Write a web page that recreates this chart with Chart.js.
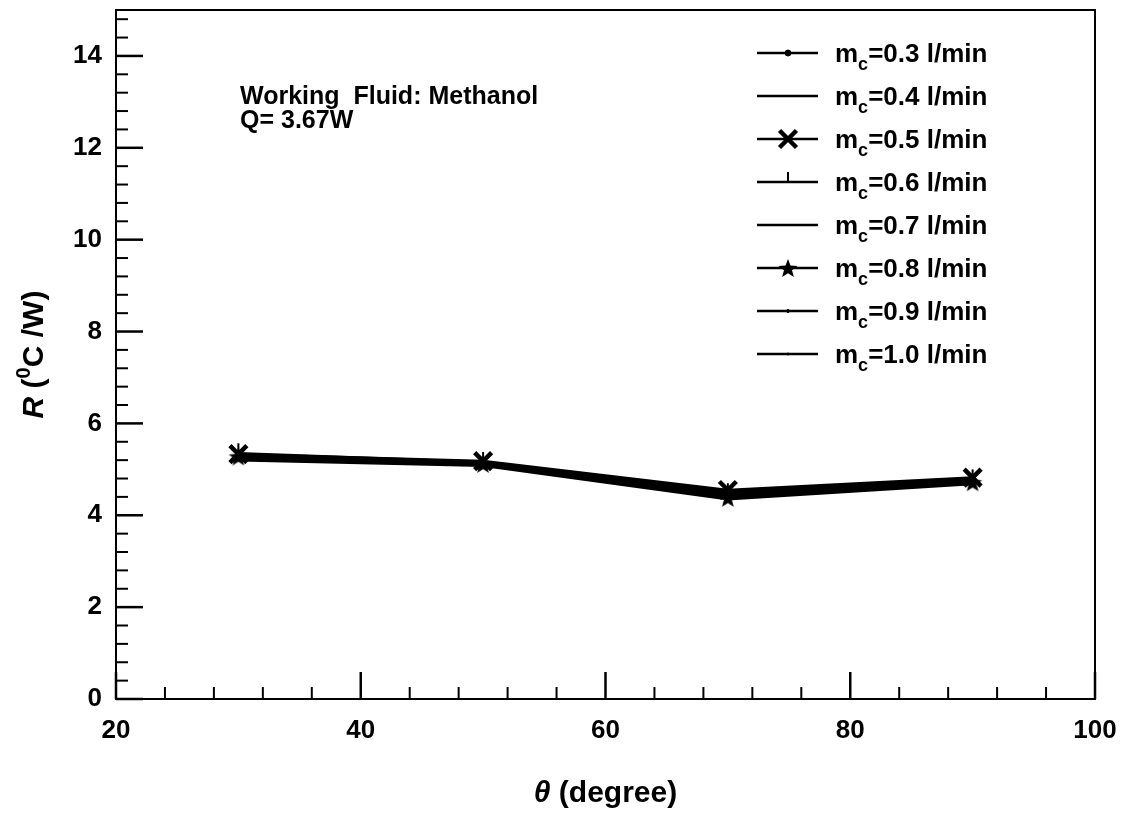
<!DOCTYPE html>
<html>
<head>
<meta charset="utf-8">
<script src="https://cdn.jsdelivr.net/npm/chart.js@4.4.0/dist/chart.umd.min.js"></script>
<style>
    html, body { margin: 0; padding: 0; background: #fff; }
    #wrap { width: 1123px; height: 814px; position: relative; }
</style>
</head>
<body>
<div id="wrap"><canvas id="chart" width="1123" height="814"></canvas></div>
<script>
'use strict';

// Data
const angles = [30, 50, 70, 90];
const flowLabels = ['0.3', '0.4', '0.5', '0.6', '0.7', '0.8', '0.9', '1.0'];
const r03 = [5.30, 5.15, 4.52, 4.80];
const r04 = [5.22, 5.10, 4.40, 4.70];
const r05 = [5.33, 5.18, 4.55, 4.82];
const r06 = [5.35, 5.16, 4.48, 4.78];
const r07 = [5.20, 5.08, 4.35, 4.68];
const r08 = [5.28, 5.12, 4.38, 4.72];
const r09 = [5.25, 5.13, 4.45, 4.74];
const r10 = [5.24, 5.11, 4.42, 4.73];
const xTicks = [20, 40, 60, 80, 100];
const yTicks = [0, 2, 4, 6, 8, 10, 12, 14];

const FONT = 'Liberation Sans, Arial, Helvetica, sans-serif';

// filled five point star used as a point style
const makeStar = function (size) {
    const c = document.createElement('canvas');
    c.width = size;
    c.height = size;
    const g = c.getContext('2d');
    const cx = size / 2, cy = size / 2 + 1, ro = size / 2, ri = ro * 0.42;
    g.beginPath();
    for (let i = 0; i < 10; i++) {
        const r = i % 2 === 0 ? ro : ri;
        const a = -Math.PI / 2 + i * Math.PI / 5;
        g.lineTo(cx + r * Math.cos(a), cy + r * Math.sin(a));
    }
    g.closePath();
    g.fillStyle = '#000';
    g.fill();
    return c;
};
const star = makeStar(20);

const markers = [
    { pointStyle: 'circle', radius: 3, borderWidth: 1, rotation: 0 },
    { pointStyle: false, radius: 0, borderWidth: 0, rotation: 0 },
    { pointStyle: 'crossRot', radius: 12, borderWidth: 4.5, rotation: 0 },
    { pointStyle: 'dash', radius: 10, borderWidth: 2, rotation: -90 },
    { pointStyle: false, radius: 0, borderWidth: 0, rotation: 0 },
    { pointStyle: star, radius: 10, borderWidth: 0, rotation: 0 },
    { pointStyle: 'circle', radius: 1.5, borderWidth: 1, rotation: 0 },
    { pointStyle: 'circle', radius: 1, borderWidth: 1, rotation: 0 },
];
const seriesData = [r03, r04, r05, r06, r07, r08, r09, r10];

const datasets = seriesData.map((vals, i) => ({
    label: 'mc=' + flowLabels[i] + ' l/min',
    data: angles.map((a, j) => ({ x: a, y: vals[j] })),
    borderColor: '#000',
    backgroundColor: '#000',
    borderWidth: 2.5,
    pointStyle: markers[i].pointStyle,
    pointRadius: markers[i].radius,
    pointBorderWidth: markers[i].borderWidth,
    pointRotation: markers[i].rotation,
    pointBorderColor: '#000',
    pointBackgroundColor: '#000',
    tension: 0,
}));

// frame, inward ticks, legend, annotation and axis titles
const decorations = {
    id: 'decorations',
    afterDraw(chart) {
        const ctx = chart.ctx;
        const xs = chart.scales.x;
        const ys = chart.scales.y;
        const a = chart.chartArea;
        ctx.save();
        ctx.strokeStyle = '#000';
        ctx.fillStyle = '#000';
        ctx.lineWidth = 2;
        ctx.strokeRect(a.left, a.top, a.right - a.left, a.bottom - a.top);

        // x ticks
        for (let v = xs.min; v <= xs.max + 1e-6; v += 4) {
            const px = xs.getPixelForValue(v);
            const major = xTicks.includes(Math.round(v));
            ctx.lineWidth = major ? 2.5 : 2;
            ctx.beginPath();
            ctx.moveTo(px, a.bottom);
            ctx.lineTo(px, a.bottom - (major ? 27 : 12));
            ctx.stroke();
        }
        // y ticks
        for (let k = 0; k <= 37; k++) {
            const v = k * 0.4;
            const py = ys.getPixelForValue(v);
            const major = k % 5 === 0;
            ctx.lineWidth = major ? 2.5 : 2;
            ctx.beginPath();
            ctx.moveTo(a.left, py);
            ctx.lineTo(a.left + (major ? 27 : 12), py);
            ctx.stroke();
        }

        // legend
        const helpers = Chart.helpers;
        chart.data.datasets.forEach((ds, i) => {
            const y = 53 + i * 43;
            ctx.lineWidth = 2.5;
            ctx.beginPath();
            ctx.moveTo(757, y);
            ctx.lineTo(818, y);
            ctx.stroke();
            const m = markers[i];
            if (m.pointStyle && helpers && helpers.drawPoint) {
                ctx.lineWidth = m.borderWidth;
                helpers.drawPoint(ctx, {
                    pointStyle: m.pointStyle,
                    radius: m.radius,
                    rotation: m.rotation,
                    borderWidth: m.borderWidth,
                }, 788, y);
            }
            ctx.textBaseline = 'alphabetic';
            ctx.textAlign = 'left';
            ctx.font = 'bold 26px ' + FONT;
            ctx.fillText('m', 835, y + 9);
            const mw = ctx.measureText('m').width;
            ctx.font = 'bold 18px ' + FONT;
            ctx.fillText('c', 835 + mw, y + 17);
            const cw = ctx.measureText('c').width;
            ctx.font = 'bold 26px ' + FONT;
            ctx.fillText('=' + flowLabels[i] + ' l/min', 835 + mw + cw, y + 9);
        });

        // annotation
        ctx.font = 'bold 25px ' + FONT;
        ctx.fillText('Working  Fluid: Methanol', 240, 104);
        ctx.fillText('Q= 3.67W', 240, 128);

        // x title
        ctx.font = 'italic bold 30px ' + FONT;
        const thW = ctx.measureText('\u03B8').width;
        ctx.font = 'bold 30px ' + FONT;
        const restW = ctx.measureText(' (degree)').width;
        const x0 = (a.left + a.right) / 2 - (thW + restW) / 2;
        ctx.font = 'italic bold 30px ' + FONT;
        ctx.fillText('\u03B8', x0, 802);
        ctx.font = 'bold 30px ' + FONT;
        ctx.fillText(' (degree)', x0 + thW, 802);

        // y title, rotated
        ctx.translate(43, (a.top + a.bottom) / 2);
        ctx.rotate(-Math.PI / 2);
        const parts = [
            { t: 'R', f: 'italic bold 30px ', dy: 0 },
            { t: ' (', f: 'bold 30px ', dy: 0 },
            { t: '0', f: 'bold 20px ', dy: -13 },
            { t: 'C /W)', f: 'bold 30px ', dy: 0 },
        ];
        let total = 0;
        parts.forEach((p) => {
            ctx.font = p.f + FONT;
            p.w = ctx.measureText(p.t).width;
            total += p.w;
        });
        let cx = -total / 2;
        parts.forEach((p) => {
            ctx.font = p.f + FONT;
            ctx.fillText(p.t, cx, p.dy);
            cx += p.w;
        });
        ctx.restore();
    },
};

new Chart(document.getElementById('chart'), {
    type: 'line',
    data: { datasets: datasets },
    options: {
        responsive: false,
        animation: false,
        layout: {
            autoPadding: false,
            padding: { top: 10, right: 28, left: 0, bottom: 0 },
        },
        plugins: {
            legend: { display: false },
            tooltip: { enabled: false },
        },
        scales: {
            x: {
                type: 'linear',
                min: 20,
                max: 100,
                grid: { display: false, drawTicks: false },
                border: { display: false },
                afterBuildTicks: (scale) => {
                    scale.ticks = xTicks.map((v) => ({ value: v }));
                },
                afterFit: (scale) => {
                    scale.height = 115;
                    scale.paddingLeft = 0;
                    scale.paddingRight = 0;
                },
                ticks: {
                    color: '#000',
                    padding: 16,
                    maxRotation: 0,
                    font: { family: FONT, size: 26, weight: 'bold' },
                },
            },
            y: {
                type: 'linear',
                min: 0,
                max: 15,
                grid: { display: false, drawTicks: false },
                border: { display: false },
                afterBuildTicks: (scale) => {
                    scale.ticks = yTicks.map((v) => ({ value: v }));
                },
                afterFit: (scale) => {
                    scale.width = 116;
                    scale.paddingTop = 0;
                    scale.paddingBottom = 0;
                },
                ticks: {
                    color: '#000',
                    padding: 14,
                    font: { family: FONT, size: 26, weight: 'bold' },
                },
            },
        },
    },
    plugins: [decorations],
});
</script>
</body>
</html>
